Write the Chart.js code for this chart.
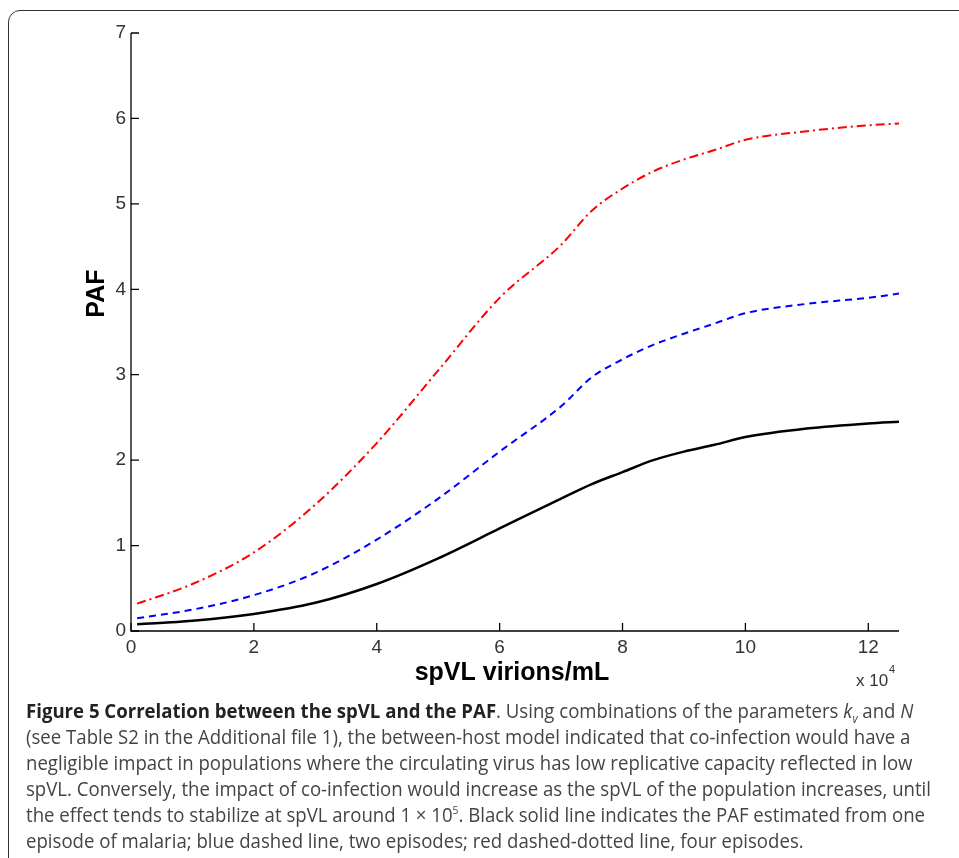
<!DOCTYPE html>
<html><head><meta charset="utf-8">
<script src="https://cdn.jsdelivr.net/npm/chart.js@4"></script>
<style>
body{margin:0;width:959px;height:858px;overflow:hidden;background:#fff;position:relative;font-family:"Open Sans",sans-serif}
#frame{position:absolute;left:8px;top:10px;width:1000px;height:900px;border:1.5px solid #333;border-radius:12px}
#wrap{position:absolute;left:0;top:0;width:959px;height:700px}
#cap{position:absolute;left:26px;top:698px;width:1100px;font-size:20px;line-height:26px;color:#444;white-space:nowrap;transform:scaleX(0.93);transform-origin:0 0}
#cap b{color:#222}
</style></head><body>
<div id="frame"></div>
<div id="wrap"><canvas id="c"></canvas></div>
<div id="cap"><b>Figure 5 Correlation between the spVL and the PAF</b>. Using combinations of the parameters <i>k<sub style="font-size:12px;line-height:0">v</sub></i> and <i>N</i><br>(see Table S2 in the Additional file 1), the between-host model indicated that co-infection would have a<br>negligible impact in populations where the circulating virus has low replicative capacity reflected in low<br>spVL. Conversely, the impact of co-infection would increase as the spVL of the population increases, until<br>the effect tends to stabilize at spVL around 1 × 10<sup style="font-size:11px;line-height:0">5</sup>. Black solid line indicates the PAF estimated from one<br>episode of malaria; blue dashed line, two episodes; red dashed-dotted line, four episodes.</div>
<script>
const xs = [0.1,1,2,3,4,5,6,7,7.5,8,8.5,9,9.5,10,11,12,12.5];
const oneEpisode = [0.08,0.12,0.2,0.33,0.55,0.85,1.2,1.55,1.72,1.86,2.0,2.1,2.18,2.27,2.37,2.43,2.45];
const twoEpisodes = [0.15,0.25,0.42,0.68,1.07,1.55,2.1,2.63,2.97,3.18,3.35,3.48,3.6,3.72,3.83,3.9,3.95];
const fourEpisodes = [0.32,0.55,0.92,1.48,2.2,3.05,3.9,4.52,4.92,5.18,5.38,5.52,5.63,5.75,5.85,5.92,5.94];
const xTicks = [0,2,4,6,8,10,12];
const yTicks = [0,1,2,3,4,5,6,7];
const pts = a => a.map((v,i)=>({x:xs[i],y:v}));
const deco = {id:'deco',afterDraw(ch){
  const c=ch.ctx,xs_=ch.scales.x,ys=ch.scales.y,a=ch.chartArea;
  c.save();c.strokeStyle='#000';c.lineWidth=1.3;
  c.beginPath();c.moveTo(a.left,a.top);c.lineTo(a.left,a.bottom);c.lineTo(a.right,a.bottom);c.stroke();
  c.beginPath();
  xTicks.forEach(t=>{const p=xs_.getPixelForValue(t);c.moveTo(p,a.bottom);c.lineTo(p,a.bottom-8);});
  yTicks.forEach(t=>{const p=ys.getPixelForValue(t);c.moveTo(a.left,p);c.lineTo(a.left+8,p);});
  c.stroke();
  c.fillStyle='#000';c.font='bold 25px "Liberation Sans", Arial';c.textAlign='center';c.textBaseline='middle';
  c.fillText('spVL virions/mL',xs_.getPixelForValue(6.2),673);
  c.save();c.translate(97,ys.getPixelForValue(3.95));c.rotate(-Math.PI/2);c.fillText('PAF',0,0);c.restore();
  c.font='17px "Liberation Sans Narrow", "Liberation Sans"';c.fillStyle='#333';c.textAlign='left';
  c.fillText('x 10',856,681);c.font='11px "Liberation Sans"';c.fillText('4',889,670);
  c.restore();}};
new Chart(document.getElementById('c'),{type:'line',
 data:{datasets:[
  {data:pts(fourEpisodes),borderColor:'#ff0000',borderWidth:2,borderDash:[9,4,2,4],pointRadius:0,cubicInterpolationMode:'monotone'},
  {data:pts(twoEpisodes),borderColor:'#0000ff',borderWidth:2,borderDash:[7,5],pointRadius:0,cubicInterpolationMode:'monotone'},
  {data:pts(oneEpisode),borderColor:'#000',borderWidth:2.5,pointRadius:0,cubicInterpolationMode:'monotone'}]},
 options:{responsive:true,maintainAspectRatio:false,animation:false,
  layout:{padding:{top:33,right:60,left:0,bottom:0}},
  plugins:{legend:{display:false},tooltip:{enabled:false}},
  scales:{
   x:{type:'linear',min:0,max:12.5,afterFit(s){s.height=69;},
      afterBuildTicks(s){s.ticks=xTicks.map(v=>({value:v}));},
      grid:{display:false,drawTicks:false},border:{display:false},
      ticks:{padding:5,color:'#333',font:{size:19,family:'"Liberation Sans Narrow","Liberation Sans"'},maxRotation:0}},
   y:{min:0,max:7,afterFit(s){s.width=131;},
      afterBuildTicks(s){s.ticks=yTicks.map(v=>({value:v}));},
      grid:{display:false,drawTicks:false},border:{display:false},
      ticks:{padding:5,color:'#333',font:{size:19,family:'"Liberation Sans Narrow","Liberation Sans"'}}}}},
 plugins:[deco]});
</script></body></html>
